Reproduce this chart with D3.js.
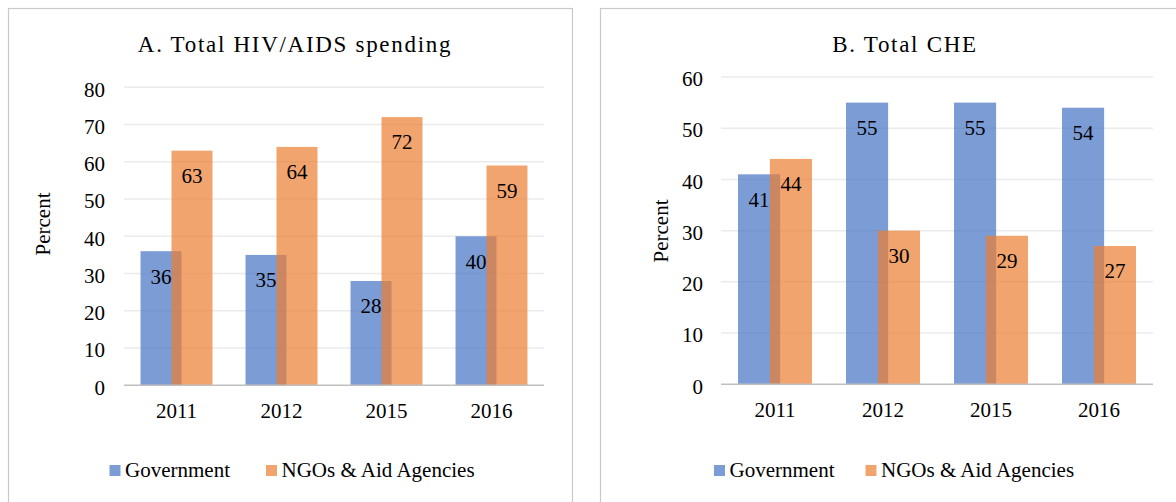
<!DOCTYPE html>
<html>
<head>
<meta charset="utf-8">
<script src="https://cdn.jsdelivr.net/npm/d3@7"></script>
<style>
  html, body { margin: 0; padding: 0; background: #fff; }
  svg { display: block; }
</style>
</head>
<body>
<svg id="chart" width="1176" height="502"></svg>
<script>
// Shares of spending by source, in percent
const years = ["2011", "2012", "2015", "2016"];
const seriesNames = ["Government", "NGOs & Aid Agencies"];
const hivGovernment = [36, 35, 28, 40];
const hivNgo = [63, 64, 72, 59];
const cheGovernment = [41, 55, 55, 54];
const cheNgo = [44, 30, 29, 27];
const hivTicks = [0, 10, 20, 30, 40, 50, 60, 70, 80];
const cheTicks = [0, 10, 20, 30, 40, 50, 60];

const colors = ["#4472C4", "#ED7D31"];
const barOpacity = 0.7;
const serif = "'Liberation Serif', 'DejaVu Serif', serif";

const svg = d3.select("#chart");

function label(sel, size) {
  return sel.style("font-family", serif).style("font-size", size + "px").attr("fill", "#000");
}

function drawPanel(p) {
  const g = svg.append("g");

  // panel frame (runs off the bottom edge)
  g.append("rect")
    .attr("x", p.frame[0] + 0.5).attr("y", 8.5)
    .attr("width", p.frame[1] - p.frame[0]).attr("height", 700)
    .attr("fill", "none").attr("stroke", "#c9c9c9").attr("stroke-width", 1.2);

  const x = d3.scaleBand().domain(years).range([p.left, p.right]);
  const y = d3.scaleLinear().domain([0, d3.max(p.ticks)]).range([p.bottom, p.top]);
  const step = x.bandwidth();
  const barW = step * 0.39;
  const overlap = step * 0.095;
  const groupW = barW * 2 - overlap;
  const barX = (i, si) => x(years[i]) + (step - groupW) / 2 + si * (barW - overlap);

  // gridlines
  g.append("g").selectAll("line").data(p.ticks.filter(t => t > 0)).join("line")
    .attr("x1", p.left).attr("x2", p.right)
    .attr("y1", d => y(d)).attr("y2", d => y(d))
    .attr("stroke", "#ebebeb").attr("stroke-width", 1.5);

  // y tick labels
  const yAxis = d3.axisLeft(y).tickValues(p.ticks).tickSize(0).tickPadding(0);
  const ya = g.append("g").attr("transform", `translate(${p.tickRight},2)`).call(yAxis);
  ya.select(".domain").remove();
  ya.attr("font-family", null);
  label(ya.selectAll("text"), 21);

  // bars
  const series = [p.gov, p.ngo];
  series.forEach((vals, si) => {
    g.append("g").selectAll("rect").data(vals).join("rect")
      .attr("x", (d, i) => barX(i, si))
      .attr("y", d => y(d))
      .attr("width", barW)
      .attr("height", d => y(0) - y(d))
      .attr("fill", colors[si]).attr("fill-opacity", barOpacity);
  });

  // baseline
  g.append("line")
    .attr("x1", p.left).attr("x2", p.right)
    .attr("y1", y(0)).attr("y2", y(0))
    .attr("stroke", "#bfbfbf").attr("stroke-width", 1.5);

  // value labels inside the bar ends
  series.forEach((vals, si) => {
    label(g.append("g").selectAll("text").data(vals).join("text"), 21)
      .attr("x", (d, i) => barX(i, si) + barW / 2)
      .attr("y", d => y(d) + 25)
      .attr("dy", "0.35em")
      .attr("text-anchor", "middle")
      .text(d => d3.format("d")(d));
  });

  // category labels
  const xa = g.append("g").attr("transform", `translate(0,${p.catY})`)
    .call(d3.axisBottom(x).tickSize(0).tickPadding(0));
  xa.select(".domain").remove();
  xa.attr("font-family", null);
  label(xa.selectAll("text"), 21).attr("dy", "0.35em");

  // axis title
  label(g.append("text"), 21)
    .attr("transform", `translate(${p.yTitle[0]},${p.yTitle[1]}) rotate(-90)`)
    .attr("text-anchor", "middle").attr("dy", "0.35em")
    .text("Percent");

  // chart title
  label(g.append("text"), 23)
    .attr("x", p.titleX).attr("y", 52)
    .attr("text-anchor", "middle")
    .style("letter-spacing", "1.7px")
    .text(p.title);

  // legend
  seriesNames.forEach((name, i) => {
    g.append("rect")
      .attr("x", p.legend[i]).attr("y", 465)
      .attr("width", 11).attr("height", 11)
      .attr("fill", colors[i]).attr("fill-opacity", barOpacity);
    label(g.append("text"), 21)
      .attr("x", p.legend[i] + 15.5).attr("y", 477)
      .text(name);
  });
}

drawPanel({
  title: "A. Total HIV/AIDS spending",
  frame: [8, 572],
  left: 124, right: 544, top: 87.3, bottom: 385.3,
  ticks: hivTicks, gov: hivGovernment, ngo: hivNgo,
  tickRight: 105, catY: 411, yTitle: [43, 224],
  titleX: 295, legend: [109.5, 266]
});

drawPanel({
  title: "B. Total CHE",
  frame: [600, 1190],
  left: 721, right: 1153, top: 77, bottom: 384.3,
  ticks: cheTicks, gov: cheGovernment, ngo: cheNgo,
  tickRight: 703, catY: 410, yTitle: [661, 231],
  titleX: 905, legend: [714, 865.5]
});
</script>
</body>
</html>
